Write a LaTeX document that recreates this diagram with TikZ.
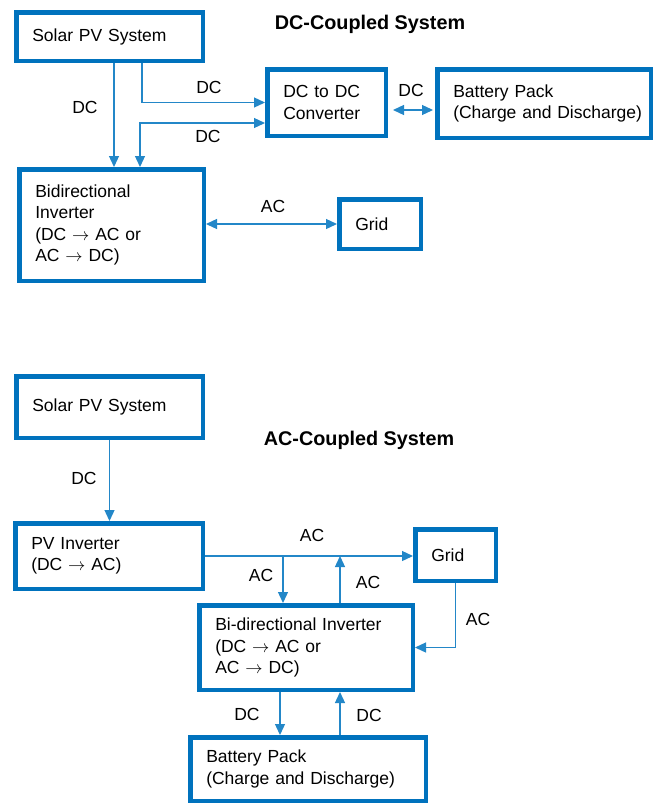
\documentclass[tikz,border=0pt]{standalone}
\usepackage{fontspec}
\setmainfont{Liberation Sans}
\usetikzlibrary{arrows.meta}

\begin{document}
\begin{tikzpicture}[x=1pt, y=-1pt, font=\fontsize{17.5}{21.5}\selectfont, >={Triangle[length=11pt, width=10pt]},
		box/.style={draw=boxblue, line width=4.5pt, anchor=north west, align=left, inner xsep=16pt, inner ysep=0pt},
		conn/.style={draw=lineblue, line width=1.3pt},
		lbl/.style={inner sep=0pt},
		heading/.style={font=\fontsize{19.8}{23}\selectfont\bfseries, anchor=base}]
				\definecolor{boxblue}{RGB}{0, 114, 189}
				\definecolor{lineblue}{RGB}{35, 135, 200}
				\useasboundingbox (0,0) rectangle (654,803);
				\node[heading] (titleDC) at (370,29.5) {DC-Coupled System};
				\node[box, text width=154.5pt, minimum height=48.5pt] (solarDC) at (14,10) {Solar PV System};
				\node[box, text width=86.5pt, minimum height=66.5pt] (converter) at (265,67) {DC to DC\\Converter};
				\node[box, text width=181.5pt, minimum height=68.5pt] (batteryDC) at (435,67) {Battery Pack\\\mbox{(Charge and Discharge)}};
				\node[box, text width=152.5pt, minimum height=111.5pt] (inverterDC) at (17,167) {Bidirectional\\Inverter\\(DC $\rightarrow$ AC or\\AC $\rightarrow$ DC)};
				\node[box, text width=49.5pt, minimum height=49.5pt] (gridDC) at (337,197) {Grid};
				\draw[conn, ->] ([xshift=4.5pt]solarDC.south) -- ([xshift=4.5pt]solarDC.south |- inverterDC.north);
				\draw[conn, ->] ([xshift=32.5pt]solarDC.south) |- (converter.west);
				\draw[conn, <->] ([yshift=-20.5pt]converter.west) -| ([xshift=30.5pt]solarDC.south |- inverterDC.north);
				\draw[conn, <->, shorten <=5pt, shorten >=2pt] ([yshift=-7.5pt]converter.east) -- ([yshift=-7.5pt]converter.east -| batteryDC.west);
				\draw[conn, <->] (gridDC.west -| inverterDC.east) -- (gridDC.west);
				\node[lbl] (dcLeft) at (85,107) {DC};
				\node[lbl] (dcUpper) at (209,87) {DC};
				\node[lbl] (dcLower) at (208,136) {DC};
				\node[lbl] (dcBattery) at (411,90) {DC};
				\node[lbl] (acGridDC) at (273,206) {AC};
				\node[heading] (titleAC) at (359,445) {AC-Coupled System};
				\node[box, text width=154.5pt, minimum height=61.5pt] (solarAC) at (14,374) {Solar PV System};
				\node[box, text width=155.5pt, minimum height=65.5pt] (pvinverter) at (13,521) {PV Inverter\\(DC $\rightarrow$ AC)};
				\node[box, text width=48.5pt, minimum height=51.5pt] (gridAC) at (413,527) {Grid};
				\node[box, text width=181.5pt, minimum height=84.5pt] (inverterAC) at (197,603) {Bi-directional Inverter\\(DC $\rightarrow$ AC or\\AC $\rightarrow$ DC)};
				\node[box, text width=203.5pt, minimum height=63.5pt] (batteryAC) at (188,735) {Battery Pack\\(Charge and Discharge)};
				\draw[conn, ->] (solarAC.south) -- (solarAC.south |- pvinverter.north);
				\draw[conn, ->] (pvinverter.east) -- (pvinverter.east -| gridAC.west);
				\draw[conn, ->] ([xshift=-23pt]inverterAC.north |- pvinverter.east) -- ([xshift=-23pt]inverterAC.north);
				\draw[conn, ->] ([xshift=34pt]inverterAC.north) -- ([xshift=34pt]inverterAC.north |- pvinverter.east);
				\draw[conn, ->] (gridAC.south) |- (inverterAC.east);
				\draw[conn, ->] ([xshift=-26pt]inverterAC.south) -- ([xshift=-26pt]inverterAC.south |- batteryAC.north);
				\draw[conn, ->] ([xshift=34pt]inverterAC.south |- batteryAC.north) -- ([xshift=34pt]inverterAC.south);
				\node[lbl] (dcSolar) at (84,478) {DC};
				\node[lbl] (acTop) at (312,535) {AC};
				\node[lbl] (acDown) at (261,575) {AC};
				\node[lbl] (acUp) at (368,582) {AC};
				\node[lbl] (acGridAC) at (478,619) {AC};
				\node[lbl] (dcDown) at (247,714) {DC};
				\node[lbl] (dcUp) at (369,715) {DC};
			\end{tikzpicture}
\end{document}
